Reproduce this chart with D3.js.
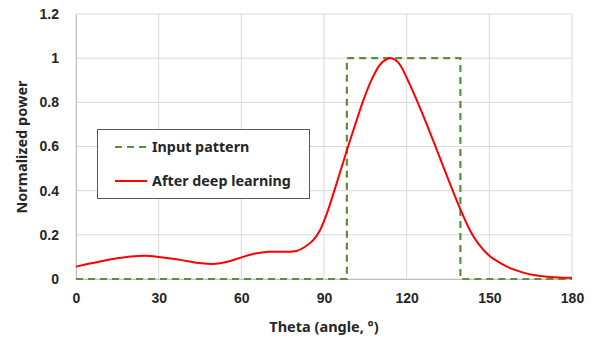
<!DOCTYPE html>
<html lang="en">
<head>
<meta charset="UTF-8">
<title>Normalized power vs theta</title>
<script src="https://d3js.org/d3.v7.min.js"></script>
<style>
    body { margin: 0; background: #fff; }
    svg { display: block; font-family: "Noto Sans", Arial, sans-serif; }
    .grid line { stroke: #d9d9d9; stroke-width: 1; }
    .tick text { font-size: 14px; font-weight: bold; fill: #262626; }
    .axis-title { font-size: 14.5px; font-weight: bold; fill: #262626; }
    .legend text { font-size: 14.3px; font-weight: bold; fill: #262626; }
</style>
</head>
<body>
<svg id="chart" width="599" height="341"></svg>
<script>
// Data
const xTicks = [0, 30, 60, 90, 120, 150, 180];
const yTicks = [0, 0.2, 0.4, 0.6, 0.8, 1, 1.2];

const inputTheta = [0, 98.3, 98.3, 139.5, 139.5, 180];
const inputPower = [0, 0, 1, 1, 0, 0];

const dlTheta = [0, 5, 10, 15, 20, 25, 30, 35, 40, 45, 50, 55, 60, 65, 70, 75, 80, 83, 86, 88.5,
                 91, 93.5, 96, 99, 102, 104, 107, 110, 112, 114.5, 117, 121, 126, 130, 134.5,
                 139, 143, 146, 150, 154, 158, 162, 166, 170, 175, 180];
const dlPower = [0.056, 0.070, 0.083, 0.094, 0.102, 0.105, 0.100, 0.092, 0.082, 0.072, 0.068, 0.078,
                 0.098, 0.115, 0.123, 0.123, 0.127, 0.145, 0.175, 0.22,
                 0.295, 0.39, 0.49, 0.61, 0.725, 0.80, 0.895, 0.965, 0.99, 1.0, 0.98, 0.885, 0.74, 0.615, 0.47,
                 0.33, 0.22, 0.16, 0.105, 0.072, 0.047, 0.03, 0.018, 0.011, 0.007, 0.006];

const legendLabels = ["Input pattern", "After deep learning"];

const margin = { top: 14, right: 27, bottom: 62, left: 76 },
      width = 599 - margin.left - margin.right,
      height = 341 - margin.top - margin.bottom;

const svg = d3.select("#chart");
const g = svg.append("g").attr("transform", `translate(${margin.left},${margin.top})`);

const x = d3.scaleLinear().domain([0, 180]).range([0, width]);
const y = d3.scaleLinear().domain([0, 1.2]).range([height, 0]);

// gridlines
g.append("g").attr("class", "grid")
    .selectAll("line").data(yTicks).enter().append("line")
    .attr("x1", 0).attr("x2", width)
    .attr("y1", d => y(d)).attr("y2", d => y(d));
g.append("g").attr("class", "grid")
    .selectAll("line").data(xTicks).enter().append("line")
    .attr("x1", d => x(d)).attr("x2", d => x(d))
    .attr("y1", 0).attr("y2", height);

// axes
const yAxis = g.append("g")
    .call(d3.axisLeft(y).tickValues(yTicks).tickSize(0).tickPadding(17).tickFormat(d3.format("~g")));
yAxis.select(".domain").attr("stroke", "#bfbfbf");

const xAxis = g.append("g")
    .attr("transform", `translate(0,${height})`)
    .call(d3.axisBottom(x).tickValues(xTicks).tickSize(0).tickPadding(14));
xAxis.select(".domain").attr("stroke", "#bfbfbf");

// lines
const inputData = inputTheta.map((t, i) => [t, inputPower[i]]);
const dlData = dlTheta.map((t, i) => [t, dlPower[i]]);

g.append("path")
    .datum(inputData)
    .attr("fill", "none")
    .attr("stroke", "#5f8f3e")
    .attr("stroke-width", 2.2)
    .attr("stroke-dasharray", "7,5")
    .attr("d", d3.line().x(d => x(d[0])).y(d => y(d[1])));

g.append("path")
    .datum(dlData)
    .attr("fill", "none")
    .attr("stroke", "#ff0000")
    .attr("stroke-width", 2)
    .attr("d", d3.line().curve(d3.curveCatmullRom.alpha(0.5)).x(d => x(d[0])).y(d => y(d[1])));

// axis titles
svg.append("text")
    .attr("class", "axis-title")
    .attr("x", 324)
    .attr("y", 332)
    .attr("text-anchor", "middle")
    .text("Theta (angle, °)");

svg.append("text")
    .attr("class", "axis-title")
    .attr("transform", "translate(27,147) rotate(-90)")
    .attr("text-anchor", "middle")
    .text("Normalized power");

// legend
const legend = svg.append("g").attr("class", "legend");
legend.append("rect")
    .attr("x", 97.5).attr("y", 129.5)
    .attr("width", 212).attr("height", 69)
    .attr("fill", "#fff")
    .attr("stroke", "#595959")
    .attr("stroke-width", 1);

const styles = [
    { stroke: "#5f8f3e", dash: "7,5", width: 2.2 },
    { stroke: "#ff0000", dash: null, width: 2 }
];
legendLabels.forEach((label, i) => {
    const ly = 147 + i * 34;
    legend.append("line")
        .attr("x1", 115).attr("x2", 147)
        .attr("y1", ly).attr("y2", ly)
        .attr("stroke", styles[i].stroke)
        .attr("stroke-width", styles[i].width)
        .attr("stroke-dasharray", styles[i].dash);
    legend.append("text")
        .attr("x", 152).attr("y", ly + 5)
        .text(label);
});
</script>
</body>
</html>
